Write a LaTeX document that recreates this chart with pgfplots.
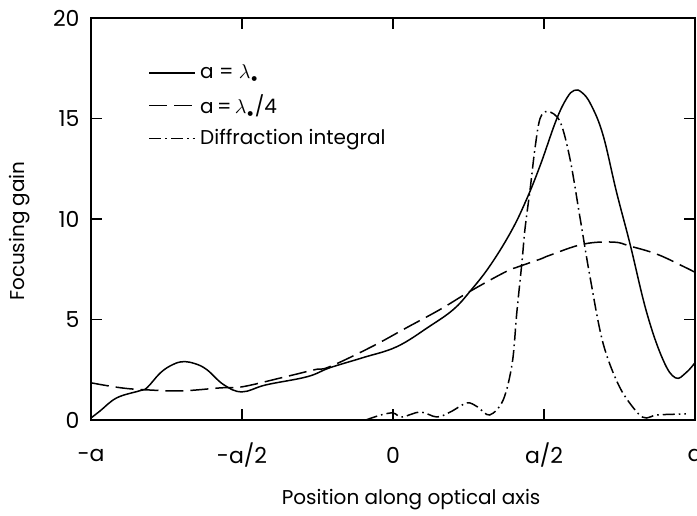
\documentclass[border=0pt]{standalone}
\usepackage{pgfplots}
\pgfplotsset{compat=1.18}
\usepackage{fontspec}
\setmainfont{Poppins}
\begin{document}
\begin{tikzpicture}[font=\fontsize{10}{12}\selectfont]
\begin{axis}[
  scale only axis, width=302pt, height=201pt,
  xmin=-1, xmax=1, ymin=0, ymax=20,
  xtick={-1,-0.5,0,0.5,1}, xticklabels={-a,-a/2,0,a/2,a},
  ytick={0,5,10,15,20},
  tick align=inside, tick pos=both, major tick length=5.5pt,
  axis line style={line width=0.75pt},
  tick style={line width=0.75pt, black},
  /pgf/number format/assume math mode=true,
  tick label style={font=\fontsize{11}{13}\selectfont},
  xticklabel style={anchor=center, yshift=-17.5pt},
  yticklabel style={anchor=east, xshift=-2.2pt},
  xlabel={Position along optical axis},
  ylabel={Focusing gain},
  x label style={at={([yshift=-40pt]axis description cs:0.53,0)}, anchor=center},
  y label style={at={([xshift=-35.5pt]axis description cs:0,0.47)}, anchor=center, rotate=0},
  legend style={draw=none, fill=none, at={(axis description cs:0.085,0.905)}, anchor=north west, row sep=2.5pt, font=\fontsize{10}{12}\selectfont},
  legend cell align=left,
  legend image code/.code={\draw[#1] (0pt,0pt) -- (23pt,0pt);},
  every axis plot/.append style={line width=0.75pt, black},
]
\addplot[smooth, tension=0.65] coordinates {
(-1,0.1) (-0.97,0.45) (-0.915,1.1) (-0.84,1.45) (-0.815,1.6) (-0.77,2.35) (-0.73,2.75) (-0.695,2.9) (-0.655,2.8) (-0.616,2.5) (-0.56,1.75) (-0.5,1.4) (-0.42,1.75) (-0.285,2.15) (-0.209,2.6) (-0.1,3.1) (0.013,3.65) (0.12,4.65) (0.2,5.5) (0.255,6.4) (0.32,7.65) (0.39,9.35) (0.44,10.9) (0.487,12.65) (0.54,14.9) (0.575,16.0) (0.6,16.4) (0.625,16.3) (0.655,15.7) (0.695,14.2) (0.74,11.35) (0.785,8.75) (0.84,5.35) (0.894,3.0) (0.935,2.1) (0.97,2.35) (1,2.85)
};
\addlegendentry{a = $\lambda_{\scriptscriptstyle\bullet}$}
\addplot[smooth, tension=0.65, dash pattern=on 9pt off 3.5pt] coordinates {
(-1,1.85) (-0.9,1.6) (-0.815,1.5) (-0.7,1.45) (-0.57,1.6) (-0.5,1.65) (-0.37,2.1) (-0.26,2.5) (-0.21,2.65) (-0.07,3.65) (0.046,4.6) (0.156,5.5) (0.255,6.4) (0.37,7.35) (0.42,7.65) (0.487,8.0) (0.52,8.2) (0.63,8.75) (0.73,8.85) (0.785,8.65) (0.874,8.25) (0.96,7.65) (1,7.35)
};
\addlegendentry{a\,=\,$\lambda_{\scriptscriptstyle\bullet}$/4}
\addplot[smooth, tension=0.55, dash pattern=on 6pt off 2pt on 0.8pt off 2pt] coordinates {
(-0.09,0) (-0.04,0.25) (0,0.35) (0.03,0.15) (0.09,0.4) (0.145,0.15) (0.19,0.4) (0.245,0.85) (0.28,0.65) (0.32,0.25) (0.365,1.0) (0.395,2.85) (0.41,5.35) (0.427,7.85) (0.437,9.5) (0.455,11.6) (0.47,13.5) (0.487,15) (0.513,15.35) (0.553,14.85) (0.586,13) (0.62,10) (0.652,7.15) (0.695,3.85) (0.75,1.65) (0.81,0.35) (0.84,0.1) (0.874,0.25) (0.97,0.3)
};
\addlegendentry{Diffraction integral}
\coordinate (SW) at (rel axis cs:0,0);
\coordinate (NE) at (rel axis cs:1,1);
\end{axis}
\pgfresetboundingbox
\useasboundingbox ([shift={(-45.5pt,-47.5pt)}]SW) rectangle ([shift={(1pt,9pt)}]NE);
\end{tikzpicture}
\end{document}
